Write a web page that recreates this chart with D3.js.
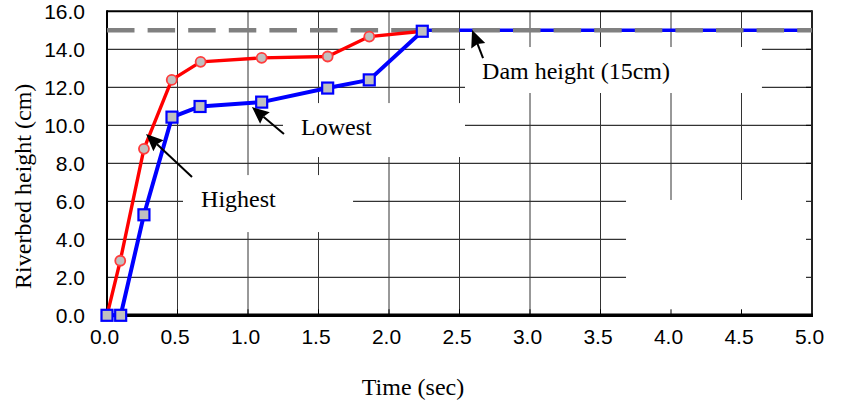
<!DOCTYPE html>
<html><head><meta charset="utf-8">
<script src="https://cdn.jsdelivr.net/npm/d3@7/dist/d3.min.js"></script>
<style>body{margin:0;background:#fff}</style>
</head><body><svg id="c" width="844" height="405"></svg>
<script>
// ---- data ----
const highestTime   = [0.000, 0.094, 0.262, 0.459, 0.664, 1.097, 1.565, 1.860, 2.236];
const highestHeight = [0.00, 2.87, 8.76, 12.39, 13.34, 13.55, 13.62, 14.67, 14.95];
const lowestTime    = [0.000, 0.097, 0.262, 0.461, 0.660, 1.097, 1.565, 1.860, 2.236];
const lowestHeight  = [0.00, 0.00, 5.29, 10.43, 10.99, 11.22, 11.96, 12.39, 14.95];
const lowestTailTime   = [2.236, 5.0];
const lowestTailHeight = [15.0, 15.0];
const damHeight = 15.0;
const xTicks = [0, 0.5, 1.0, 1.5, 2.0, 2.5, 3.0, 3.5, 4.0, 4.5, 5.0];
const yTicks = [0, 2, 4, 6, 8, 10, 12, 14, 16];
const xTitle = "Time (sec)";
const yTitle = "Riverbed height (cm)";

// annotations (data coordinates)
const labelBoxes = [
  {x0:0.539, x1:1.745, y0:4.38, y1:7.38},
  {x0:1.248, x1:2.539, y0:8.33, y1:11.17},
  {x0:2.539, x1:4.645, y0:11.70, y1:14.12},
  {x0:3.681, x1:5.0,  y0:0.0,  y1:6.07}
];
const notes = [
  {text:"Highest", x:0.667, y:5.70, tip:[0.277, 9.54], tail:[0.603, 7.28]},
  {text:"Lowest", x:1.376, y:9.49, tip:[1.028, 10.96], tail:[1.255, 9.54]},
  {text:"Dam height (15cm)", x:2.66, y:12.44, tip:[2.589, 15.02], tail:[2.667, 13.54]}
];

// ---- layout ----
const L = 107, R = 812, T = 11.3, B = 315.3;
const x = d3.scaleLinear().domain([0, 5]).range([L, R]);
const y = d3.scaleLinear().domain([0, 16]).range([B, T]);
const svg = d3.select("#c");

// gridlines
const grid = svg.append("g");
grid.selectAll("line.h").data(yTicks.filter(v => v > 0 && v < 16)).join("line")
  .attr("x1", L).attr("x2", R).attr("y1", d => y(d)).attr("y2", d => y(d))
  .attr("stroke", "#000").attr("stroke-width", 1);
grid.selectAll("line.v").data(xTicks.filter(v => v > 0 && v < 5)).join("line")
  .attr("x1", d => x(d)).attr("x2", d => x(d)).attr("y1", T).attr("y2", B)
  .attr("stroke", "#333").attr("stroke-width", 1);

// white label boxes
svg.append("g").selectAll("rect").data(labelBoxes).join("rect")
  .attr("x", d => x(d.x0)).attr("y", d => y(d.y1))
  .attr("width", d => x(d.x1) - x(d.x0)).attr("height", d => y(d.y0) - y(d.y1))
  .attr("fill", "#fff");

// axes
const tickFont = "'Liberation Sans Narrow', 'Liberation Sans', Arial, sans-serif";
const yAxis = svg.append("g").attr("transform", `translate(${L},0)`)
  .call(d3.axisLeft(y).tickValues(yTicks).tickFormat(d3.format(".1f")).tickSize(0).tickPadding(22));
yAxis.select(".domain").remove();
yAxis.selectAll("text").attr("font-family", tickFont).attr("font-size", 21).attr("fill", "#000")
  .attr("dy", "0.36em");
const xAxis = svg.append("g").attr("transform", `translate(0,${B})`)
  .call(d3.axisBottom(x).tickValues(xTicks).tickFormat(d3.format(".1f")).tickSize(0).tickPadding(22));
xAxis.select(".domain").remove();
xAxis.selectAll("text").attr("font-family", tickFont).attr("font-size", 21).attr("fill", "#000")
  .attr("dx", -3).attr("dy", "0.3em");

// inner tick marks on right and bottom
svg.append("g").selectAll("line").data(yTicks.filter(v => v > 0 && v < 16)).join("line")
  .attr("x1", R - 6).attr("x2", R).attr("y1", d => y(d)).attr("y2", d => y(d))
  .attr("stroke", "#000").attr("stroke-width", 1);
svg.append("g").selectAll("line").data(xTicks.filter(v => v > 0 && v < 5)).join("line")
  .attr("x1", d => x(d)).attr("x2", d => x(d)).attr("y1", B - 6).attr("y2", B)
  .attr("stroke", "#000").attr("stroke-width", 1);

// frame
svg.append("line").attr("x1", L).attr("x2", R).attr("y1", T).attr("y2", T).attr("stroke", "#000").attr("stroke-width", 2);
svg.append("line").attr("x1", R).attr("x2", R).attr("y1", T - 1).attr("y2", B).attr("stroke", "#222").attr("stroke-width", 2);
svg.append("line").attr("x1", L).attr("x2", L).attr("y1", T - 1).attr("y2", B + 1).attr("stroke", "#000").attr("stroke-width", 2);
svg.append("line").attr("x1", L - 1).attr("x2", R + 1).attr("y1", B).attr("y2", B).attr("stroke", "#000").attr("stroke-width", 3.5);

// titles
const serif = "'Liberation Serif', 'Times New Roman', serif";
svg.append("text").attr("x", 413).attr("y", 395).attr("text-anchor", "middle")
  .attr("font-family", serif).attr("font-size", 24).text(xTitle);
svg.append("text").attr("transform", `translate(31,${(T + B) / 2 + 23}) rotate(-90)`).attr("text-anchor", "middle")
  .attr("font-family", serif).attr("font-size", 24).text(yTitle);

// blue tail along the dam line
const line = d3.line().x(d => x(d[0])).y(d => y(d[1]));
svg.append("path").datum(d3.zip(lowestTailTime, lowestTailHeight)).attr("d", line)
  .attr("fill", "none").attr("stroke", "#0000ff").attr("stroke-width", 3.5);
// dam line
svg.append("path").datum([[0, damHeight], [5, damHeight]]).attr("d", line)
  .attr("fill", "none").attr("stroke", "#808080").attr("stroke-width", 4.5)
  .attr("stroke-dasharray", "27.5,13.1");

// series lines
const hi = d3.zip(highestTime, highestHeight);
const lo = d3.zip(lowestTime, lowestHeight);
svg.append("path").datum(hi).attr("d", line).attr("fill", "none")
  .attr("stroke", "#ff0000").attr("stroke-width", 3.4).attr("stroke-linejoin", "round");
svg.append("path").datum(lo).attr("d", line).attr("fill", "none")
  .attr("stroke", "#0000ff").attr("stroke-width", 4).attr("stroke-linejoin", "round");
svg.append("g").selectAll("circle").data(hi).join("circle")
  .attr("cx", d => x(d[0])).attr("cy", d => y(d[1])).attr("r", 5)
  .attr("fill", "#c0c0c0").attr("stroke", "#ff3c3c").attr("stroke-width", 1.8);
svg.append("g").selectAll("rect").data(lo).join("rect")
  .attr("x", d => x(d[0]) - 5.5).attr("y", d => y(d[1]) - 5.5).attr("width", 11).attr("height", 11)
  .attr("fill", "#c0c0c0").attr("stroke", "#0000ff").attr("stroke-width", 2.2);

// annotations
const ag = svg.append("g");
notes.forEach(n => {
  const tx = x(n.tip[0]), ty = y(n.tip[1]), sx = x(n.tail[0]), sy = y(n.tail[1]);
  const ang = Math.atan2(ty - sy, tx - sx);
  const hl = 17, hw = 7.5;
  const bx = tx - hl * Math.cos(ang), by = ty - hl * Math.sin(ang);
  ag.append("line").attr("x1", sx).attr("y1", sy).attr("x2", bx + 2 * Math.cos(ang)).attr("y2", by + 2 * Math.sin(ang))
    .attr("stroke", "#000").attr("stroke-width", 2);
  const p = [[tx, ty],
    [bx + hw * Math.sin(ang), by - hw * Math.cos(ang)],
    [bx + 2 * Math.cos(ang), by + 2 * Math.sin(ang)],
    [bx - hw * Math.sin(ang), by + hw * Math.cos(ang)]];
  ag.append("path").attr("d", "M" + p.map(q => q.join(",")).join("L") + "Z").attr("fill", "#000");
  ag.append("text").attr("x", x(n.x)).attr("y", y(n.y)).attr("font-family", serif)
    .attr("font-size", 24).text(n.text);
});
</script></body></html>
